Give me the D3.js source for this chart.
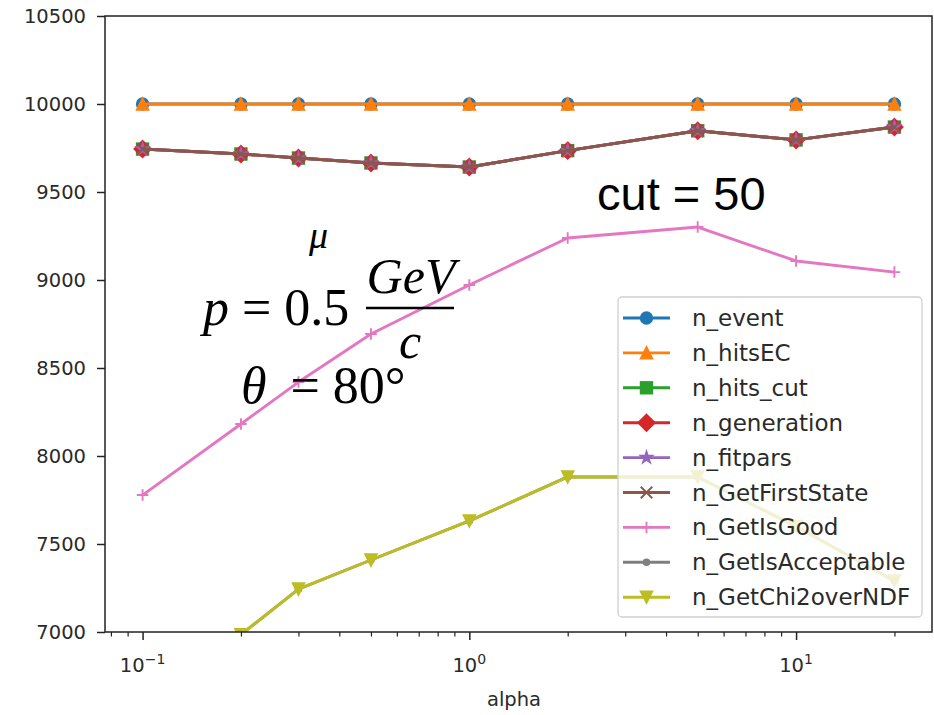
<!DOCTYPE html>
<html>
<head>
<meta charset="utf-8">
<script src="https://cdn.jsdelivr.net/npm/d3@7/dist/d3.min.js"></script>
<style>
  html, body { margin: 0; padding: 0; background: #fff; }
  svg { display: block; }
</style>
</head>
<body>
<svg id="chart" width="934" height="715"></svg>
<script>
// alpha scan, counts per selection stage
const alpha = [0.1, 0.2, 0.3, 0.5, 1, 2, 5, 10, 20];

const nEvent          = [10000, 10000, 10000, 10000, 10000, 10000, 10000, 10000, 10000];
const nHitsEC         = [10000, 10000, 10000, 10000, 10000, 10000, 10000, 10000, 10000];
const nHitsCut        = [9744, 9716, 9693, 9665, 9642, 9735, 9848, 9796, 9869];
const nGeneration     = [9744, 9716, 9693, 9665, 9642, 9735, 9848, 9796, 9869];
const nFitpars        = [9744, 9716, 9693, 9665, 9642, 9735, 9848, 9796, 9869];
const nGetFirstState  = [9744, 9716, 9693, 9665, 9642, 9735, 9848, 9796, 9869];
const nGetIsGood      = [7778, 8182, 8420, 8693, 8972, 9239, 9301, 9108, 9045];
const nGetIsAccept    = [6700, 6985, 7244, 7409, 7631, 7881, 7881, 7600, 7290];
const nGetChi2overNDF = [6700, 6985, 7244, 7409, 7631, 7881, 7881, 7600, 7290];

const seriesNames  = ["n_event", "n_hitsEC", "n_hits_cut", "n_generation", "n_fitpars",
                      "n_GetFirstState", "n_GetIsGood", "n_GetIsAcceptable", "n_GetChi2overNDF"];
const seriesValues = [nEvent, nHitsEC, nHitsCut, nGeneration, nFitpars,
                      nGetFirstState, nGetIsGood, nGetIsAccept, nGetChi2overNDF];
const seriesColors = ["#1f77b4", "#ff7f0e", "#2ca02c", "#d62728", "#9467bd",
                      "#8c564b", "#e377c2", "#7f7f7f", "#bcbd22"];
const seriesMarkers = ["o", "^", "s", "D", "*", "x", "+", ".", "v"];

const yTicks = [7000, 7500, 8000, 8500, 9000, 9500, 10000, 10500];
const xMajorExp = [-1, 0, 1];

// layout
const L = 105, R = 932, T = 16, B = 632;
const svg = d3.select("#chart");

const x = d3.scaleLog().domain([Math.pow(10, -1.115), Math.pow(10, 1.416)]).range([L, R]);
const y = d3.scaleLinear().domain([7000, 10500]).range([B, T]);

svg.append("defs").append("clipPath").attr("id", "plotclip")
  .append("rect").attr("x", L).attr("y", T).attr("width", R - L).attr("height", B - T);

const tickFont = "'DejaVu Sans', sans-serif";
const ink = "#2a2a2a";
const tickSizePx = 19.5;
const MS = 11.5;      // marker size
const MEW = 1.9;      // marker edge width
const LW = 2.9;       // line width

function starPath(rOuter) {
  const rInner = rOuter * 0.381966;
  const pts = [];
  for (let i = 0; i < 10; i++) {
    const r = i % 2 === 0 ? rOuter : rInner;
    const a = -Math.PI / 2 + i * Math.PI / 5;
    pts.push([r * Math.cos(a), r * Math.sin(a)]);
  }
  return "M" + pts.map(p => p.join(",")).join("L") + "Z";
}

// marker drawing
function drawMarker(g, type, color, size) {
  const r = size / 2;
  const filled = sel => sel.attr("fill", color).attr("stroke", color).attr("stroke-width", MEW)
    .attr("stroke-linejoin", "miter");
  if (type === "o") {
    filled(g.append("circle").attr("r", r));
  } else if (type === "^") {
    filled(g.append("path").attr("d", `M0,${-r}L${-r},${r}L${r},${r}Z`));
  } else if (type === "v") {
    filled(g.append("path").attr("d", `M0,${r}L${-r},${-r}L${r},${-r}Z`));
  } else if (type === "s") {
    filled(g.append("rect").attr("x", -r).attr("y", -r).attr("width", size).attr("height", size));
  } else if (type === "D") {
    const d = r * Math.SQRT2;
    filled(g.append("path").attr("d", `M0,${-d}L${d},0L0,${d}L${-d},0Z`));
  } else if (type === "*") {
    filled(g.append("path").attr("d", starPath(r)));
  } else if (type === "x") {
    g.append("path").attr("d", `M${-r},${-r}L${r},${r}M${-r},${r}L${r},${-r}`)
      .attr("stroke", color).attr("stroke-width", MEW).attr("fill", "none");
  } else if (type === "+") {
    g.append("path").attr("d", `M${-r},0L${r},0M0,${-r}L0,${r}`)
      .attr("stroke", color).attr("stroke-width", MEW).attr("fill", "none");
  } else if (type === ".") {
    filled(g.append("circle").attr("r", r * 0.5));
  }
}

// data series
const plot = svg.append("g").attr("clip-path", "url(#plotclip)");
const line = d3.line().x((d, i) => x(alpha[i])).y(d => y(d));

seriesValues.forEach((vals, k) => {
  const g = plot.append("g");
  g.append("path").datum(vals).attr("d", line)
    .attr("fill", "none").attr("stroke", seriesColors[k]).attr("stroke-width", LW)
    .attr("stroke-linejoin", "round");
  vals.forEach((v, i) => {
    const mg = g.append("g").attr("transform", `translate(${x(alpha[i])},${y(v)})`);
    drawMarker(mg, seriesMarkers[k], seriesColors[k], MS);
  });
});

// axes frame
svg.append("rect").attr("x", L).attr("y", T).attr("width", R - L).attr("height", B - T)
  .attr("fill", "none").attr("stroke", "#222").attr("stroke-width", 1.5);

// y axis
const yAxis = d3.axisLeft(y).tickValues(yTicks).tickSize(8).tickPadding(11).tickFormat(d3.format("d"));
const yg = svg.append("g").attr("transform", `translate(${L},0)`).call(yAxis);
yg.select(".domain").remove();
yg.selectAll(".tick line").attr("stroke", "#222").attr("stroke-width", 1.5);
yg.selectAll(".tick text").attr("font-family", tickFont).attr("font-size", tickSizePx).attr("fill", ink);

// x axis: minor ticks
const minor = [];
for (let e = -2; e <= 1; e++) {
  for (let m = 2; m <= 9; m++) {
    const v = m * Math.pow(10, e);
    if (v >= x.domain()[0] && v <= x.domain()[1]) minor.push(v);
  }
}
const xMinor = d3.axisBottom(x).tickValues(minor).tickSize(4.5).tickFormat("");
const xmg = svg.append("g").attr("transform", `translate(0,${B})`).call(xMinor);
xmg.select(".domain").remove();
xmg.selectAll(".tick line").attr("stroke", "#222").attr("stroke-width", 1.2);

// x axis: major ticks with power-of-ten labels
const xMajor = d3.axisBottom(x).tickValues(xMajorExp.map(e => Math.pow(10, e))).tickSize(8).tickFormat("");
const xg = svg.append("g").attr("transform", `translate(0,${B})`).call(xMajor);
xg.select(".domain").remove();
xg.selectAll(".tick line").attr("stroke", "#222").attr("stroke-width", 1.5);
xMajorExp.forEach(e => {
  const t = svg.append("text").attr("x", x(Math.pow(10, e))).attr("y", 672)
    .attr("text-anchor", "middle").attr("font-family", tickFont).attr("font-size", tickSizePx).attr("fill", ink);
  t.append("tspan").text("10");
  t.append("tspan").attr("dy", -8).attr("font-size", 14).text(e < 0 ? "\u2212" + Math.abs(e) : String(e));
});

svg.append("text").attr("x", 514).attr("y", 706).attr("text-anchor", "middle")
  .attr("font-family", tickFont).attr("font-size", tickSizePx).attr("fill", ink).text("alpha");

// legend
const legendFont = 23;
const lg = svg.append("g");
lg.append("rect").attr("x", 618).attr("y", 297).attr("width", 304).attr("height", 320).attr("rx", 4)
  .attr("fill", "#fff").attr("fill-opacity", 0.8).attr("stroke", "#d0d0d0").attr("stroke-width", 1.3);
seriesNames.forEach((name, k) => {
  const yy = 318 + k * 34.9;
  lg.append("line").attr("x1", 623).attr("x2", 670).attr("y1", yy).attr("y2", yy)
    .attr("stroke", seriesColors[k]).attr("stroke-width", LW);
  drawMarker(lg.append("g").attr("transform", `translate(646.5,${yy})`), seriesMarkers[k], seriesColors[k], MS);
  lg.append("text").attr("x", 692).attr("y", yy + 8).attr("font-family", tickFont)
    .attr("font-size", legendFont).attr("fill", ink).text(name);
});

// annotations
const serif = "'Liberation Serif', 'DejaVu Serif', serif";
svg.append("text").attr("x", 597).attr("y", 210).attr("font-family", "'Liberation Sans', Arial, sans-serif")
  .attr("font-size", 47).attr("fill", "#000").text("cut = 50");

svg.append("text").attr("x", 309).attr("y", 248).attr("font-family", serif).attr("font-style", "italic")
  .attr("font-size", 38).attr("fill", "#000").text("\u03bc");

const pLine = svg.append("text").attr("x", 203).attr("y", 325).attr("font-family", serif)
  .attr("font-size", 52).attr("fill", "#000");
pLine.append("tspan").attr("font-style", "italic").text("p");
pLine.append("tspan").text(" = 0.5");

svg.append("text").attr("x", 411).attr("y", 293).attr("text-anchor", "middle").attr("font-family", serif)
  .attr("font-style", "italic").attr("font-size", 50).attr("fill", "#000").text("GeV");
svg.append("line").attr("x1", 366).attr("x2", 454).attr("y1", 308).attr("y2", 308)
  .attr("stroke", "#000").attr("stroke-width", 2.4);
svg.append("text").attr("x", 410).attr("y", 358).attr("text-anchor", "middle").attr("font-family", serif)
  .attr("font-style", "italic").attr("font-size", 50).attr("fill", "#000").text("c");

const thLine = svg.append("text").attr("x", 241).attr("y", 403).attr("font-family", serif)
  .attr("font-size", 52).attr("fill", "#000");
thLine.append("tspan").attr("font-style", "italic").text("\u03b8");
thLine.append("tspan").attr("dx", 24).text("= 80\u00b0");
</script>
</body>
</html>
